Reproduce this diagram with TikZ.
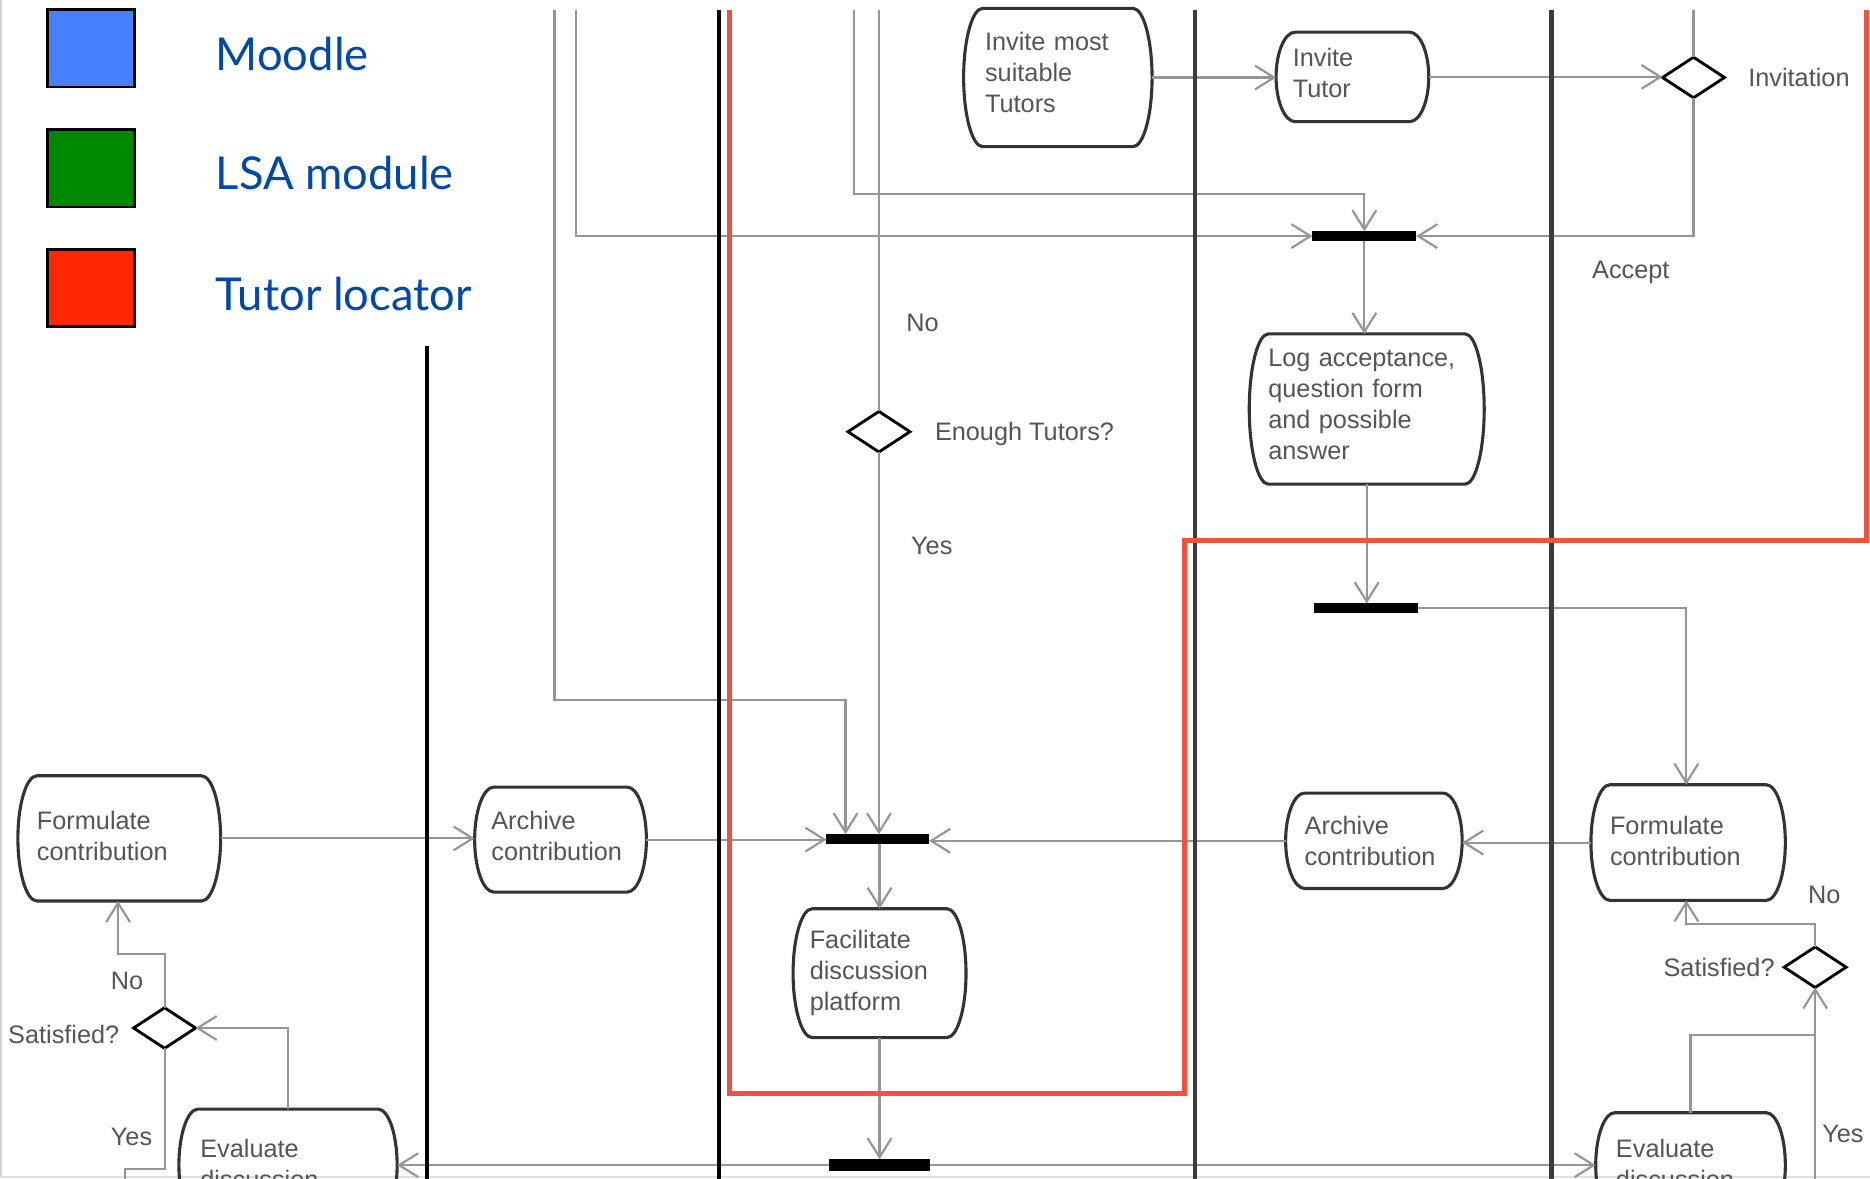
\documentclass[tikz,border=0pt]{standalone}
\usepackage{fontspec}
\setmainfont{Liberation Sans}
\newfontfamily\legendfont{Lato}
\usetikzlibrary{arrows.meta,shapes.geometric,calc}
\definecolor{conn}{RGB}{150,150,150}
\definecolor{txt}{RGB}{85,85,85}
\definecolor{lane}{RGB}{60,60,60}
\definecolor{redbox}{RGB}{240,82,66}
\definecolor{mblue}{RGB}{70,128,255}
\definecolor{mgreen}{RGB}{0,136,0}
\definecolor{mred}{RGB}{255,38,0}
\definecolor{legtxt}{RGB}{0,72,170}
\newcommand\rc{8pt}
\newcommand\actbox[1]{%
  \draw[boxline] let \p1=(#1.north west), \p2=(#1.south east),
     \n1={(\y1+\y2)/2}, \n2={0.55*(\y1-\y2)/2} in
   (\x1+\rc,\y1) -- (\x2-\rc,\y1)
   .. controls (\x2-0.45*\rc,\y1) and (\x2,\n1*1pt+\n2*1pt) .. (\x2,\n1*1pt)
   .. controls (\x2,\n1*1pt-\n2*1pt) and (\x2-0.45*\rc,\y2) .. (\x2-\rc,\y2)
   -- (\x1+\rc,\y2)
   .. controls (\x1+0.45*\rc,\y2) and (\x1,\n1*1pt-\n2*1pt) .. (\x1,\n1*1pt)
   .. controls (\x1,\n1*1pt+\n2*1pt) and (\x1+0.45*\rc,\y1) .. (\x1+\rc,\y1) -- cycle;}
\tikzset{
  every node/.style={outer sep=0pt},
  act/.style={rectangle, draw=none, inner ysep=0pt, align=left,
    font=\fontsize{10.6}{13}\selectfont, text=txt, text height=7.6pt},
  boxline/.style={draw=black!80, line width=1.3pt, line join=round},
  bar/.style={rectangle, fill=black, draw=none, inner sep=0pt, minimum height=4pt},
  dec/.style={diamond, draw=black, line width=1.2pt, inner sep=0pt,
    minimum width=26pt, minimum height=17pt, fill=white},
  cline/.style={draw=conn, line width=0.9pt},
  arr/.style={cline, -{Straight Barb[length=8pt,width=10pt]}},
  lab/.style={font=\fontsize{10.6}{13}\selectfont, text=txt, inner sep=0pt,
    text height=7.6pt, text depth=0pt},
  legsq/.style={draw=black, line width=1.1pt, minimum width=36.5pt,
    minimum height=32.5pt, inner sep=0pt},
  legtext/.style={font=\legendfont\fontsize{19}{23}\selectfont, text=legtxt,
    inner sep=0pt, anchor=base west},
  lanek/.style={draw=black, line width=1.5pt},
  laneg/.style={draw=lane, line width=2pt},
}
\begin{document}
\begin{tikzpicture}[x=0.5pt,y=-0.5pt]
\useasboundingbox (0,0) rectangle (1568,988);
\fill[white] (0,0) rectangle (1568,988);
\clip (0,0) rectangle (1568,988);
\draw[black!18, line width=0.8pt] (1,0) -- (1,988);
\draw[black!12, line width=0.8pt] (0,987) -- (1568,987);

% legend
\node[legsq, fill=mblue] (sqM) at (76.5,40.5) {};
\node[legsq, fill=mgreen] (sqL) at (76.5,141) {};
\node[legsq, fill=mred] (sqT) at (76.5,241.5) {};
\node[legtext] (tM) at (181,59) {Moodle};
\node[legtext] (tL) at (181,159) {LSA module};
\node[legtext] (tT) at (181,260) {Tutor locator};

% activity nodes
\node[act, text width=61pt, inner xsep=9pt, minimum height=58pt, text depth=30pt] (invm) at (887,65) {Invite most\\suitable\\Tutors};
\node[act, text width=50pt, inner xsep=7pt, minimum height=37.5pt, text depth=16.5pt] (invt) at (1134,64.5) {Invite\\Tutor};
\node[act, text width=82.5pt, inner xsep=8pt, minimum height=63pt, text depth=43pt] (logn) at (1146,343) {Log acceptance,\\question form\\and possible\\answer};
\node[act, text width=58.5pt, inner xsep=7pt, minimum height=54pt, text depth=28pt] (facil) at (737.5,816) {Facilitate\\discussion\\platform};
\node[act, text width=69pt, inner xsep=8pt, minimum height=52.5pt, text depth=15pt] (formL) at (100,703) {Formulate\\contribution};
\node[act, text width=58pt, inner xsep=7pt, minimum height=44pt, text depth=16pt] (archL) at (470,704) {Archive\\contribution};
\node[act, text width=58pt, inner xsep=8pt, minimum height=40pt, text depth=13pt] (archR) at (1152,705) {Archive\\contribution};
\node[act, text width=65.5pt, inner xsep=8pt, minimum height=48.5pt, text depth=14.5pt] (formR) at (1415.5,706.5) {Formulate\\contribution};
\node[act, text width=73.5pt, inner xsep=9pt, minimum height=47pt, text depth=14pt] (evalL) at (241.5,977) {Evaluate\\discussion};
\node[act, text width=62.5pt, inner xsep=8.5pt, minimum height=44pt, text depth=14pt] (evalR) at (1417.5,977) {Evaluate\\discussion};
\actbox{invm}
\actbox{invt}
\actbox{logn}
\actbox{facil}
\actbox{formL}
\actbox{archL}
\actbox{archR}
\actbox{formR}
\actbox{evalL}
\actbox{evalR}

% bars
\node[bar, minimum width=43.5pt] (barTop) at (1144,198) {};
\node[bar, minimum width=43pt] (barMid) at (736,703.5) {};
\node[bar, minimum width=43.5pt] (barLog) at (1145.5,510) {};
\node[bar, minimum width=42.5pt, minimum height=5pt] (barBot) at (737.5,977) {};

% decisions
\node[dec] (dEnough) at (737,362) {};
\node[dec] (dInv) at (1420,65) {};
\node[dec] (dSatL) at (138,862) {};
\node[dec] (dSatR) at (1522,811) {};

% free ends and bends
\coordinate (topA) at (465,8);
\coordinate (jA) at (709,587);
\coordinate (topB) at (483,8);
\coordinate (topC) at (716,8);
\coordinate (jC) at (1144,163);
\coordinate (topD) at (737,8);
\coordinate (topE) at (1420,8);
\coordinate (jP) at (1414,510);
\coordinate (jQ) at (1414,775);
\coordinate (jR) at (1522,868);
\coordinate (botR) at (1522,990);
\coordinate (jS) at (99,800);
\coordinate (jT) at (105,980);
\coordinate (botL) at (105,990);

% connectors
\draw[arr] (topA) |- (jA) -- (jA |- barMid.north);
\draw[arr] (topB) |- (barTop.west);
\draw[arr] (topC) |- (jC) -- (barTop.north);
\draw[cline] (topD) -- (dEnough.north);
\draw[arr] (dEnough.south) -- (dEnough.south |- barMid.north);
\draw[arr] (barMid.south -| facil.north) -- (facil.north);
\draw[arr] (facil.south) -- (facil.south |- barBot.north);
\draw[arr] (barBot.west) -- (barBot.west -| evalL.east);
\draw[arr] (barBot.east) -- (barBot.east -| evalR.west);
\draw[arr] (formL.east) -- (formL.east -| archL.west);
\draw[arr] (archL.east) -- (archL.east -| barMid.west);
\draw[arr] (archR.west) -- (archR.west -| barMid.east);
\draw[arr] (formR.west) -- (formR.west -| archR.east);
\draw[arr] (invm.east) -- (invm.east -| invt.west);
\draw[arr] (invt.east) -- (invt.east -| dInv.west);
\draw[cline] (topE) -- (dInv.north);
\draw[arr] (dInv.south) |- (barTop.east);
\draw[arr] (barTop.south) -- (barTop.south |- logn.north);
\draw[arr] (logn.south) -- (logn.south |- barLog.north);
\draw[arr] (barLog.east) -- (jP) -- (jP |- formR.north);
\draw[arr] (dSatR.north) |- (jQ) -- (jQ |- formR.south);
\draw[arr] (evalR.north) |- (jR) -- (dSatR.south);
\draw[cline] (jR) -- (botR);
\draw[arr] (dSatL.north) |- (jS) -- (jS |- formL.south);
\draw[arr] (evalL.north) |- (dSatL.east);
\draw[cline] (dSatL.south) |- (jT) -- (botL);

% labels
\node[lab, anchor=west] (lNo1) at (760,270) {No};
\node[lab, anchor=west] (lYes1) at (764,457) {Yes};
\node[lab, anchor=west] (lEnough) at (784,362) {Enough Tutors?};
\node[lab, anchor=west] (lInv) at (1466,65) {Invitation};
\node[lab, anchor=west] (lAcc) at (1335,226) {Accept};
\node[lab, anchor=east] (lSatR) at (1488,811) {Satisfied?};
\node[lab, anchor=west] (lNoR) at (1516,750) {No};
\node[lab, anchor=west] (lYesR) at (1528,950) {Yes};
\node[lab, anchor=east] (lSatL) at (100,867) {Satisfied?};
\node[lab, anchor=west] (lNoL) at (93,822) {No};
\node[lab, anchor=west] (lYesL) at (93,953) {Yes};

% swimlane separators
\draw[lanek] (358,290) -- (358,990);
\draw[lanek] (603,8) -- (603,990);
\draw[laneg] (1002,8) -- (1002,990);
\draw[laneg] (1301,8) -- (1301,990);

% tutor locator region
\draw[redbox, line width=2pt, line join=miter] (612,8) -- (612,917) -- (993,917) -- (993,453) -- (1565,453) -- (1565,8);
\end{tikzpicture}
\end{document}
